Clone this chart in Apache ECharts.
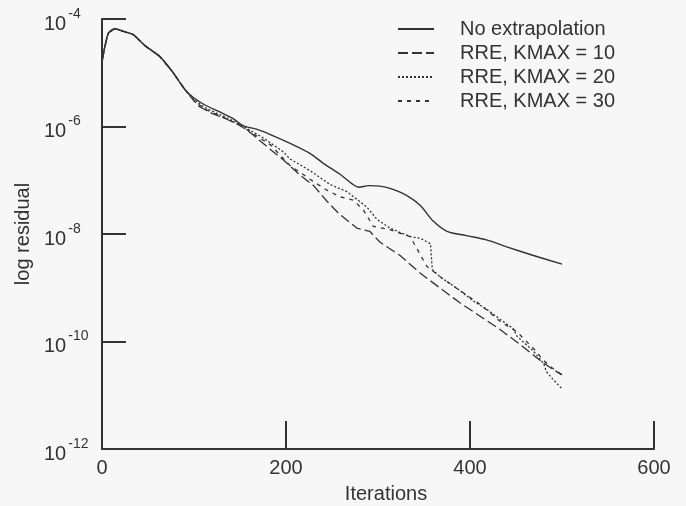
<!DOCTYPE html>
<html>
<head>
<meta charset="utf-8">
<script src="https://cdn.jsdelivr.net/npm/echarts@6/dist/echarts.min.js"></script>
<style>
  html, body { margin: 0; padding: 0; background: #f7f7f7; }
  #chart { width: 686px; height: 506px; }
</style>
</head>
<body>
<div id="chart"></div>
<script>
// Series names (legend)
const seriesNames = ['No extrapolation', 'RRE, KMAX = 10', 'RRE, KMAX = 20', 'RRE, KMAX = 30'];

// Axis ticks
const xTicks = [0, 200, 400, 600];
const yTickExponents = [-12, -10, -8, -6, -4];

// No extrapolation: iteration and log10(residual)
const iterNoExt = [0, 3, 7, 14, 25, 34, 47, 63, 77, 90, 100, 112, 128, 143, 154, 168, 183, 204, 226, 241, 258, 273, 279, 290, 302, 313, 331, 346, 360, 375, 396, 418, 440, 469, 500];
const logNoExt  = [-4.80, -4.52, -4.26, -4.18, -4.24, -4.29, -4.50, -4.70, -4.99, -5.31, -5.47, -5.60, -5.73, -5.86, -5.99, -6.05, -6.15, -6.31, -6.50, -6.69, -6.88, -7.08, -7.13, -7.10, -7.11, -7.15, -7.28, -7.47, -7.76, -7.95, -8.03, -8.11, -8.24, -8.40, -8.56];

// RRE, KMAX = 10
const iterK10 = [0, 3, 7, 14, 25, 34, 47, 63, 77, 90, 95, 105, 120, 135, 150, 161, 179, 197, 215, 230, 245, 258, 277, 291, 302, 324, 346, 367, 389, 411, 433, 454, 476, 490, 500];
const logK10  = [-4.80, -4.52, -4.26, -4.18, -4.24, -4.29, -4.50, -4.70, -4.99, -5.31, -5.42, -5.62, -5.76, -5.86, -5.98, -6.11, -6.37, -6.62, -6.90, -7.10, -7.40, -7.63, -7.89, -7.95, -8.15, -8.40, -8.73, -9.00, -9.28, -9.53, -9.78, -10.05, -10.35, -10.52, -10.62];

// RRE, KMAX = 20
const iterK20 = [0, 3, 7, 14, 25, 34, 47, 63, 77, 90, 100, 112, 128, 143, 154, 175, 197, 204, 226, 248, 266, 288, 299, 313, 335, 346, 357, 359, 367, 389, 403, 418, 433, 447, 451, 469, 480, 483, 490, 500];
const logK20  = [-4.80, -4.52, -4.26, -4.18, -4.24, -4.29, -4.50, -4.70, -4.99, -5.31, -5.50, -5.65, -5.78, -5.90, -6.00, -6.21, -6.47, -6.60, -6.82, -7.08, -7.21, -7.50, -7.73, -7.89, -8.05, -8.08, -8.18, -8.66, -8.79, -9.05, -9.24, -9.40, -9.59, -9.76, -9.90, -10.18, -10.41, -10.56, -10.70, -10.88];

// RRE, KMAX = 30
const iterK30 = [0, 3, 7, 14, 25, 34, 47, 63, 77, 90, 100, 112, 128, 143, 154, 183, 204, 226, 244, 259, 273, 284, 295, 313, 335, 353, 367, 389, 411, 433, 451, 469, 480, 490, 500];
const logK30  = [-4.80, -4.52, -4.26, -4.18, -4.24, -4.29, -4.50, -4.70, -4.99, -5.31, -5.52, -5.68, -5.80, -5.92, -6.02, -6.34, -6.72, -6.98, -7.18, -7.31, -7.37, -7.55, -7.86, -7.92, -8.05, -8.60, -8.79, -9.05, -9.31, -9.63, -9.82, -10.13, -10.35, -10.50, -10.62];

const ink = '#333333';
const font = '"Liberation Sans", Arial, Helvetica, sans-serif';

function pairs(xs, ys) { return xs.map((x, i) => [x, ys[i]]); }

const lineDefs = [
  { x: iterNoExt, y: logNoExt, type: 'solid', width: 1.4 },
  { x: iterK10, y: logK10, type: [10, 4], width: 1.3 },
  { x: iterK20, y: logK20, type: [2, 2], width: 1.3 },
  { x: iterK30, y: logK30, type: [4, 5], width: 1.3 }
];

const chart = echarts.init(document.getElementById('chart'), null, { renderer: 'canvas' });
chart.setOption({
  backgroundColor: '#f7f7f7',
  animation: false,
  textStyle: { fontFamily: font, color: ink },
  grid: { left: 102, right: 32, top: 19, bottom: 57, containLabel: false, outerBoundsMode: 'none' },
  legend: {
    orient: 'vertical',
    left: 397,
    top: 17,
    padding: 0,
    itemWidth: 36,
    itemHeight: 14,
    itemGap: 0,
    data: seriesNames,
    itemStyle: { opacity: 0 },
    textStyle: { fontFamily: font, fontSize: 20, color: ink, lineHeight: 24, padding: [0, 0, 0, 21] }
  },
  xAxis: {
    type: 'value',
    min: xTicks[0],
    max: xTicks[xTicks.length - 1],
    interval: 200,
    name: 'Iterations',
    nameLocation: 'middle',
    nameGap: 35,
    nameTextStyle: { fontFamily: font, fontSize: 20, color: ink, padding: [0, 0, 0, 16] },
    axisLine: { onZero: false, lineStyle: { color: ink, width: 2 } },
    axisTick: { inside: true, length: 28, lineStyle: { color: ink, width: 2 } },
    axisLabel: { fontFamily: font, fontSize: 20, color: ink, margin: 9 },
    splitLine: { show: false }
  },
  yAxis: {
    type: 'value',
    min: yTickExponents[0],
    max: yTickExponents[yTickExponents.length - 1],
    interval: 2,
    name: 'log residual',
    nameLocation: 'middle',
    nameGap: 69,
    nameRotate: 90,
    nameTextStyle: { fontFamily: font, fontSize: 20, color: ink },
    axisLine: { onZero: false, lineStyle: { color: ink, width: 2 } },
    axisTick: { inside: true, length: 24, lineStyle: { color: ink, width: 2 } },
    axisLabel: {
      align: 'left',
      margin: 58,
      formatter: v => '{b|10}{s|' + v + '}',
      rich: {
        b: { fontFamily: font, fontSize: 20, color: ink, lineHeight: 30, verticalAlign: 'bottom' },
        s: { fontFamily: font, fontSize: 14, color: ink, lineHeight: 14, verticalAlign: 'bottom', padding: [0, 0, 13, 2] }
      }
    },
    splitLine: { show: false }
  },
  series: lineDefs.map((d, i) => ({
    name: seriesNames[i],
    type: 'line',
    data: pairs(d.x, d.y),
    showSymbol: false,
    symbol: 'none',
    smooth: i === 0 ? 0.3 : false,
    lineStyle: { color: ink, width: d.width, type: d.type },
    itemStyle: { color: ink },
    z: 2 + (3 - i)
  }))
});
</script>
</body>
</html>
